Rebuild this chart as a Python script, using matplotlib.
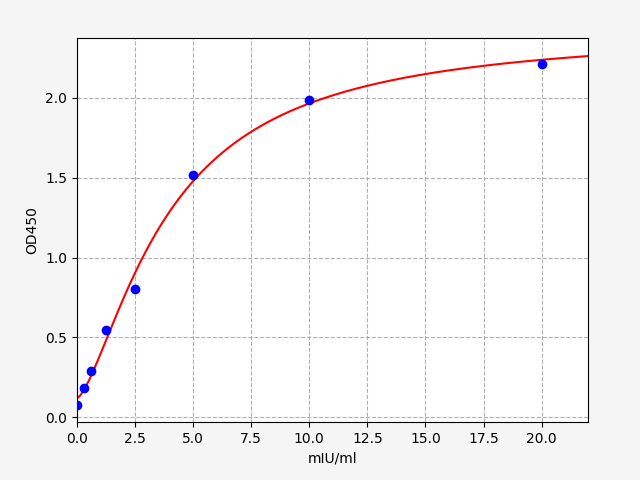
import matplotlib
matplotlib.use("Agg")
import matplotlib.pyplot as plt
import numpy as np

# standardkurva: koncentration och OD
konc = [0, 0.3125, 0.625, 1.25, 2.5, 5, 10, 20]
od = [0.075, 0.18, 0.29, 0.545, 0.80, 1.52, 1.99, 2.215]


# 4-parameters logistisk funktion
def fyrpl(x, a, b, c, d):
    return d + (a - d) / (1 + (np.maximum(x, 0) / c) ** b)


# enkel Levenberg-Marquardt anpassning
def anpassa(x, y, p):
    x = np.asarray(x, float)
    y = np.asarray(y, float)
    p = np.asarray(p, float)
    lam = 1e-3
    for _ in range(500):
        r = y - fyrpl(x, *p)
        J = np.zeros((len(x), len(p)))
        for j in range(len(p)):
            dp = np.zeros_like(p)
            dp[j] = 1e-6 * max(abs(p[j]), 1)
            J[:, j] = (fyrpl(x, *(p + dp)) - fyrpl(x, *p)) / dp[j]
        A = J.T @ J
        steg = np.linalg.solve(A + lam * np.diag(np.diag(A)), J.T @ r)
        ny = p + steg
        if ny[2] > 0 and np.sum((y - fyrpl(x, *ny)) ** 2) < np.sum(r ** 2):
            p = ny
            lam *= 0.5
        else:
            lam *= 4
    return p


param = anpassa(konc, od, [0.1, 1.5, 4, 2.5])
xfin = np.linspace(0, 22, 300)

fig = plt.figure(figsize=(6.4, 4.8), dpi=100, facecolor='#f5f5f5')
ax = fig.add_axes([0.12, 0.121, 0.799, 0.8])
ax.plot(konc, od, 'bo', zorder=3)
ax.plot(xfin, fyrpl(xfin, *param), 'r-', zorder=2)
ax.set_xlim(0, 22)
ax.set_ylim(-0.03, 2.376)
ax.grid(True, linestyle='--', color='#b0b0b0')
ax.set_xlabel('mIU/ml')
ax.set_ylabel('OD450')
fig.savefig('out.png', facecolor=fig.get_facecolor())
